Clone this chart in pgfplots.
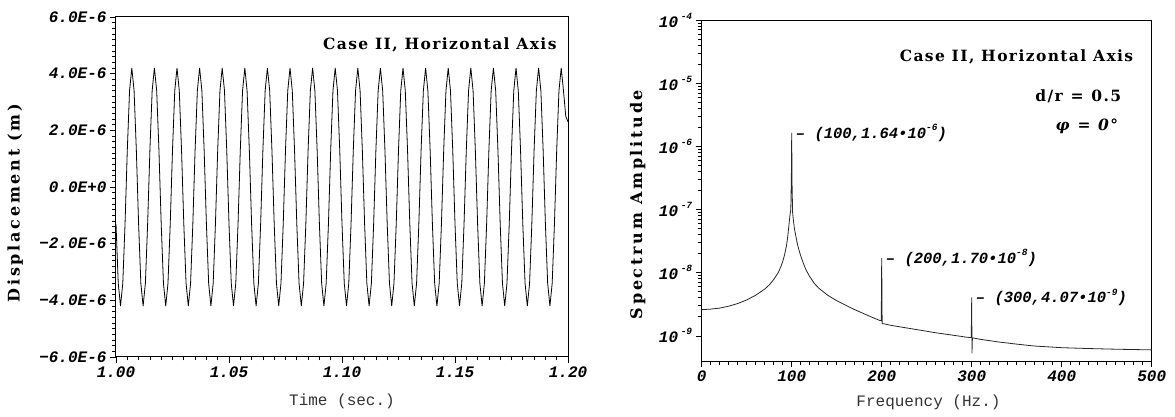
\documentclass[border=0pt]{standalone}
\usepackage{fontspec}
\usepackage{pgfplots}
\pgfplotsset{compat=1.18}
\setmainfont{DejaVu Serif}
\newfontfamily\labA[LetterSpace=17]{DejaVu Serif}
\newfontfamily\labB[LetterSpace=9]{DejaVu Serif}
\newfontfamily\monof{Liberation Mono}
\newcommand\tickf{\monof\bfseries\itshape\fontsize{16}{18}\selectfont}
\newcommand\sups[1]{\raisebox{0.5em}{\fontsize{9.5}{9.5}\selectfont #1}}

\pgfplotsset{
  myax/.style={
    scale only axis,
    axis line style={line width=1pt},
    tick pos=left, tick align=outside,
    major tick length=6pt, minor tick length=3.5pt,
    every tick/.style={black, line width=0.7pt},
    tick label style={font=\tickf},
    xlabel style={font=\monof\fontsize{16}{18}\selectfont, text=black!80, anchor=center},
    ylabel style={font=\labA\bfseries\fontsize{16}{18}\selectfont, anchor=center},
  }
}

\begin{document}
\begin{tikzpicture}[x=1pt,y=1pt]
\useasboundingbox (0,0) rectangle (1175,417);

% time history
\begin{axis}[myax,
  at={(116pt,60pt)}, anchor=south west,
  width=452pt, height=340pt,
  xmin=1, xmax=1.2, ymin=-6, ymax=6,
  xtick={1,1.05,1.1,1.15,1.2},
  xticklabels={1.00,1.05,1.10,1.15,1.20},
  ytick={-6,-4,-2,0,2,4,6},
  yticklabels={−6.0E-6,−4.0E-6,−2.0E-6,0.0E+0,2.0E-6,4.0E-6,6.0E-6},
  minor x tick num=9, minor y tick num=9,
  xlabel={Time (sec.)},
  xlabel style={at={(axis description cs:0.5,-0.13)}},
  ylabel={Displacement (m)},
  ylabel style={at={(axis description cs:-0.223,0.453)}},
]
\addplot[black, line width=0.8pt] coordinates {
(1.000,-1.3)(1.001,-3.4)(1.002,-4.2)(1.003,-3.4)(1.004,-1.3)(1.005,1.3)(1.006,3.4)(1.007,4.2)(1.008,3.4)(1.009,1.3)
(1.010,-1.3)(1.011,-3.4)(1.012,-4.2)(1.013,-3.4)(1.014,-1.3)(1.015,1.3)(1.016,3.4)(1.017,4.2)(1.018,3.4)(1.019,1.3)
(1.020,-1.3)(1.021,-3.4)(1.022,-4.2)(1.023,-3.4)(1.024,-1.3)(1.025,1.3)(1.026,3.4)(1.027,4.2)(1.028,3.4)(1.029,1.3)
(1.030,-1.3)(1.031,-3.4)(1.032,-4.2)(1.033,-3.4)(1.034,-1.3)(1.035,1.3)(1.036,3.4)(1.037,4.2)(1.038,3.4)(1.039,1.3)
(1.040,-1.3)(1.041,-3.4)(1.042,-4.2)(1.043,-3.4)(1.044,-1.3)(1.045,1.3)(1.046,3.4)(1.047,4.2)(1.048,3.4)(1.049,1.3)
(1.050,-1.3)(1.051,-3.4)(1.052,-4.2)(1.053,-3.4)(1.054,-1.3)(1.055,1.3)(1.056,3.4)(1.057,4.2)(1.058,3.4)(1.059,1.3)
(1.060,-1.3)(1.061,-3.4)(1.062,-4.2)(1.063,-3.4)(1.064,-1.3)(1.065,1.3)(1.066,3.4)(1.067,4.2)(1.068,3.4)(1.069,1.3)
(1.070,-1.3)(1.071,-3.4)(1.072,-4.2)(1.073,-3.4)(1.074,-1.3)(1.075,1.3)(1.076,3.4)(1.077,4.2)(1.078,3.4)(1.079,1.3)
(1.080,-1.3)(1.081,-3.4)(1.082,-4.2)(1.083,-3.4)(1.084,-1.3)(1.085,1.3)(1.086,3.4)(1.087,4.2)(1.088,3.4)(1.089,1.3)
(1.090,-1.3)(1.091,-3.4)(1.092,-4.2)(1.093,-3.4)(1.094,-1.3)(1.095,1.3)(1.096,3.4)(1.097,4.2)(1.098,3.4)(1.099,1.3)
(1.100,-1.3)(1.101,-3.4)(1.102,-4.2)(1.103,-3.4)(1.104,-1.3)(1.105,1.3)(1.106,3.4)(1.107,4.2)(1.108,3.4)(1.109,1.3)
(1.110,-1.3)(1.111,-3.4)(1.112,-4.2)(1.113,-3.4)(1.114,-1.3)(1.115,1.3)(1.116,3.4)(1.117,4.2)(1.118,3.4)(1.119,1.3)
(1.120,-1.3)(1.121,-3.4)(1.122,-4.2)(1.123,-3.4)(1.124,-1.3)(1.125,1.3)(1.126,3.4)(1.127,4.2)(1.128,3.4)(1.129,1.3)
(1.130,-1.3)(1.131,-3.4)(1.132,-4.2)(1.133,-3.4)(1.134,-1.3)(1.135,1.3)(1.136,3.4)(1.137,4.2)(1.138,3.4)(1.139,1.3)
(1.140,-1.3)(1.141,-3.4)(1.142,-4.2)(1.143,-3.4)(1.144,-1.3)(1.145,1.3)(1.146,3.4)(1.147,4.2)(1.148,3.4)(1.149,1.3)
(1.150,-1.3)(1.151,-3.4)(1.152,-4.2)(1.153,-3.4)(1.154,-1.3)(1.155,1.3)(1.156,3.4)(1.157,4.2)(1.158,3.4)(1.159,1.3)
(1.160,-1.3)(1.161,-3.4)(1.162,-4.2)(1.163,-3.4)(1.164,-1.3)(1.165,1.3)(1.166,3.4)(1.167,4.2)(1.168,3.4)(1.169,1.3)
(1.170,-1.3)(1.171,-3.4)(1.172,-4.2)(1.173,-3.4)(1.174,-1.3)(1.175,1.3)(1.176,3.4)(1.177,4.2)(1.178,3.4)(1.179,1.3)
(1.180,-1.3)(1.181,-3.4)(1.182,-4.2)(1.183,-3.4)(1.184,-1.3)(1.185,1.3)(1.186,3.4)(1.187,4.2)(1.188,3.4)(1.189,1.3)
(1.190,-1.3)(1.191,-3.4)(1.192,-4.2)(1.193,-3.4)(1.194,-1.3)(1.195,1.3)(1.196,3.4)(1.197,4.2)(1.198,3.4)(1.199,2.5)
(1.200,2.3)
};
\node[anchor=east, font=\labB\bfseries\fontsize{15.5}{18}\selectfont]
  at (rel axis cs:1,0.918) [xshift=-8pt] {Case II, Horizontal Axis};
\end{axis}

% spectrum
\begin{axis}[myax,
  at={(701.7pt,56pt)}, anchor=south west,
  width=450pt, height=341pt,
  xmin=0, xmax=500, ymode=log, ymin=4e-10, ymax=1e-4,
  xtick={0,100,200,300,400,500},
  xticklabels={0,100,200,300,400,500},
  minor x tick num=9,
  ytick={1e-9,1e-8,1e-7,1e-6,1e-5,1e-4},
  yticklabels={10\,\sups{-9},10\,\sups{-8},10\,\sups{-7},10\,\sups{-6},10\,\sups{-5},10\,\sups{-4}},
  xlabel={Frequency (Hz.)},
  xlabel style={at={(axis description cs:0.504,-0.12)}},
  ylabel={Spectrum Amplitude},
  ylabel style={at={(axis description cs:-0.142,0.459)}},
]
\addplot[black!85, line width=0.8pt] coordinates {
(0,2.6e-9)(10,2.65e-9)(20,2.75e-9)(30,2.95e-9)(40,3.25e-9)(50,3.7e-9)(60,4.4e-9)(70,5.5e-9)
(75,6.4e-9)(80,7.8e-9)(85,1.0e-8)(88,1.25e-8)(90,1.5e-8)(92,1.9e-8)(94,2.6e-8)(95,3.2e-8)
(96,4.2e-8)(97,5.8e-8)(98,8.0e-8)(99,1.0e-7)(99.6,3e-7)(100,1.64e-6)(100.4,2.5e-7)(101,9e-8)
(102,6.5e-8)(103,5.0e-8)(104,4.2e-8)(106,3.0e-8)(108,2.3e-8)(110,1.85e-8)(113,1.4e-8)(116,1.1e-8)
(120,8.7e-9)(125,6.8e-9)(130,5.7e-9)(140,4.4e-9)(150,3.6e-9)(160,3.05e-9)(170,2.6e-9)(180,2.25e-9)
(190,1.95e-9)(198,1.75e-9)(199.5,1.74e-9)(200,1.70e-8)(200.5,1.55e-9)(202,1.56e-9)(210,1.47e-9)
(220,1.39e-9)(240,1.25e-9)(260,1.12e-9)(280,1.02e-9)(295,9.5e-10)(299.5,9.4e-10)(300,4.07e-9)
(300.3,5.3e-10)(300.8,9.3e-10)(310,8.8e-10)(330,8.0e-10)(350,7.4e-10)(370,6.9e-10)(400,6.5e-10)
(430,6.3e-10)(460,6.15e-10)(500,6.0e-10)
};
\node[anchor=west, font=\tickf\fontsize{15.5}{18}\selectfont, inner sep=0pt]
  at (axis cs:100,1.64e-6) [xshift=4pt] {– (100,1.64•10\sups{-6})};
\node[anchor=west, font=\tickf\fontsize{15.5}{18}\selectfont, inner sep=0pt]
  at (axis cs:200,1.70e-8) [xshift=4pt] {– (200,1.70•10\sups{-8})};
\node[anchor=west, font=\tickf\fontsize{15.5}{18}\selectfont, inner sep=0pt]
  at (axis cs:300,4.07e-9) [xshift=4pt] {– (300,4.07•10\sups{-9})};
\node[anchor=east, font=\labB\bfseries\fontsize{15.5}{18}\selectfont]
  at (rel axis cs:1,0.892) [xshift=-15pt] {Case II, Horizontal Axis};
\node[anchor=east, font=\labB\bfseries\fontsize{15.5}{18}\selectfont]
  at (rel axis cs:1,0.775) [xshift=-27pt] {d/r\enspace=\enspace0.5};
\node[anchor=east, font=\labB\bfseries\fontsize{15.5}{18}\selectfont]
  at (rel axis cs:1,0.687) [xshift=-30pt] {{\itshape φ}\enspace=\enspace{\itshape 0°}};
\end{axis}
\end{tikzpicture}
\end{document}
